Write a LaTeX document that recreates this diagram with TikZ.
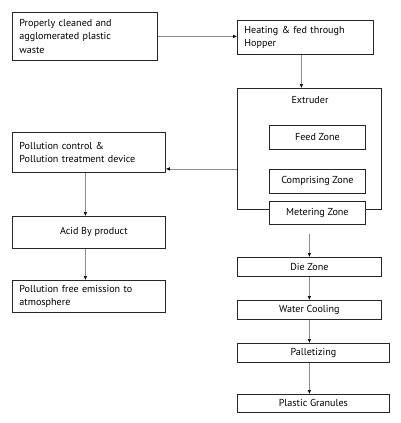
\documentclass[tikz,border=0pt]{standalone}
\usepackage{fontspec}
\setmainfont{PT Sans}
\usetikzlibrary{arrows.meta}

\begin{document}
\begin{tikzpicture}[x=1pt,y=-1pt,
    box/.style={draw=black!85, line width=0.8pt, fill=white, inner sep=0pt, anchor=north west, font=\fontsize{10.1}{13.5}\selectfont},
    flow/.style={draw=black!45, line width=0.6pt, -{Latex[length=4pt,width=3.5pt,black]}}]
                \useasboundingbox (0,0) rectangle (401,423);

                \node[box, minimum width=145pt, minimum height=48pt, text width=131pt, align=left] (src) at (12,12) {Properly cleaned and\\agglomerated plastic\\waste};
                \node[box, minimum width=136pt, minimum height=34pt, text width=122pt, align=left] (hop) at (237,20) {Heating \& fed through\\Hopper};
                \node[box, minimum width=144pt, minimum height=121pt] (ext) at (237,88) {};
                \node[font=\fontsize{10.1}{13.5}\selectfont] (extt) at (310,100) {Extruder};
                \node[box, minimum width=96pt, minimum height=24pt] (feed) at (269,125) {Feed Zone};
                \node[box, minimum width=96pt, minimum height=24pt] (cmp) at (269,169) {Comprising Zone};
                \node[box, minimum width=96pt, minimum height=23pt] (met) at (269,201) {Metering Zone};

                \node[box, minimum width=153pt, minimum height=40pt, text width=139pt, align=left] (pol) at (12,132) {Pollution control \&\\Pollution treatment device};
                \node[box, minimum width=153pt, minimum height=32pt] (acid) at (12,216) {\hspace{10pt}Acid By product};
                \node[box, minimum width=153pt, minimum height=32pt, text width=139pt, align=left] (free) at (12,280) {Pollution free emission to\\atmosphere};

                \node[box, minimum width=144pt, minimum height=19pt] (die) at (237,257) {Die Zone};
                \node[box, minimum width=144pt, minimum height=19pt] (water) at (237,300) {Water Cooling};
                \node[box, minimum width=152pt, minimum height=19pt] (pal) at (237,343) {Palletizing};
                \node[box, minimum width=152pt, minimum height=18pt] (gran) at (237,394) {Plastic Granules};

                \coordinate (exo) at ([yshift=-20pt]ext.west);
                \path (met.south -| die.north) ++(0,9) coordinate (meto);

                \draw[flow] (src.east) -- (src.east -| hop.west);
                \draw[flow] ([xshift=-4pt]hop.south) -- ([xshift=-8pt]ext.north);
                \draw[flow] (exo) -- (exo -| pol.east);
                \draw[flow] ([xshift=-3.5pt]pol.south) -- ([xshift=-3.5pt]acid.north);
                \draw[flow] ([xshift=-3.5pt]acid.south) -- ([xshift=-3.5pt]free.north);
                \draw[flow] (meto) -- (die.north);
                \draw[flow] (die.south) -- (water.north);
                \draw[flow] (water.south) -- ([xshift=-4pt]pal.north);
                \draw[flow] ([xshift=-4pt]pal.south) -- ([xshift=-4pt]gran.north);
\end{tikzpicture}
\end{document}
